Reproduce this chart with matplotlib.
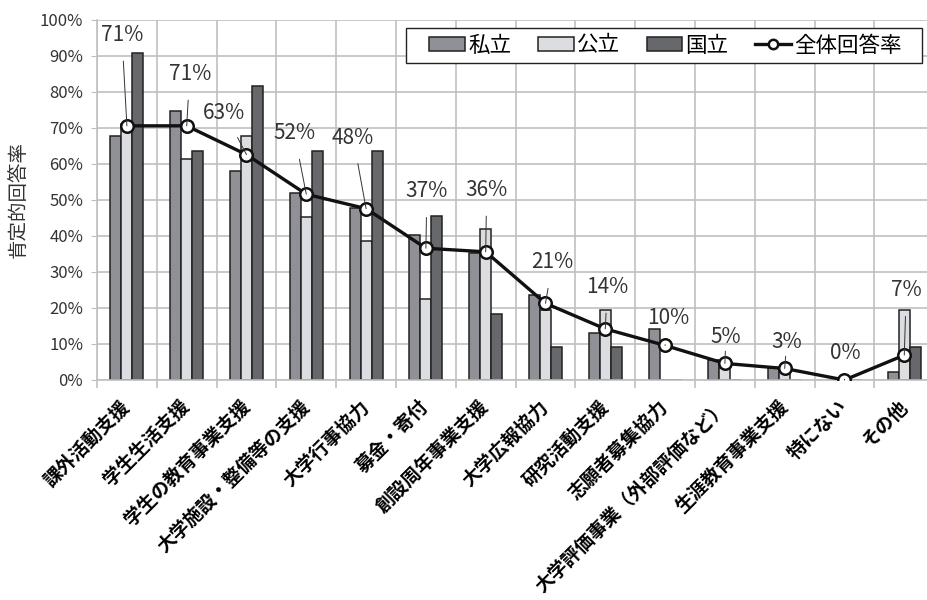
import matplotlib
matplotlib.use('Agg')
import matplotlib.pyplot as plt
import numpy as np
from matplotlib.patches import Rectangle
from matplotlib.ticker import FixedLocator, PercentFormatter

plt.rcParams['font.family'] = ['Noto Sans CJK JP', 'DejaVu Sans']

categories = [
    '課外活動支援', '学生生活支援', '学生の教育事業支援', '大学施設・整備等の支援',
    '大学行事協力', '募金・寄付', '創設周年事業支援', '大学広報協力',
    '研究活動支援', '志願者募集協力', '大学評価事業（外部評価など）',
    '生涯教育事業支援', '特にない', 'その他',
]
private = [67.8, 74.8, 58.1, 52.0, 47.7, 40.3, 35.4, 23.6, 13.0, 14.1, 5.6, 3.4, 0.0, 2.3]
public = [71.0, 61.3, 67.7, 45.2, 38.7, 22.6, 41.9, 19.4, 19.4, 0.0, 3.2, 3.2, 0.0, 19.4]
national = [90.9, 63.6, 81.8, 63.6, 63.6, 45.5, 18.2, 9.1, 9.1, 0.0, 0.0, 0.0, 0.0, 9.1]
overall = [70.6, 70.6, 62.6, 51.6, 47.6, 36.6, 35.6, 21.3, 14.2, 9.6, 4.6, 3.2, 0.0, 6.9]

# label offsets from each point, in pixels
label_offsets = [(-5, 91), (3, 52), (-22, 42), (-12, 61), (-13, 71), (1, 57), (1, 62),
                 (7, 41), (2, 42), (3, 27), (1, 26), (2, 26), (1, 27), (2, 65)]

C_PRIVATE = '#909196'
C_PUBLIC = '#dcdde0'
C_NATIONAL = '#67686c'
GRID = '#c0c0c0'

fig = plt.figure(figsize=(9.27, 6), dpi=100)
ax = fig.add_axes([97 / 927, 1 - 380 / 600, 830 / 927, 360 / 600])

x = np.arange(len(categories))
w = 0.184
bar_kw = dict(width=w, edgecolor='#222222', linewidth=1.1, zorder=2)
b1 = ax.bar(x - w, private, color=C_PRIVATE, label='私立', **bar_kw)
b2 = ax.bar(x, public, color=C_PUBLIC, label='公立', **bar_kw)
b3 = ax.bar(x + w, national, color=C_NATIONAL, label='国立', **bar_kw)

line, = ax.plot(x, overall, color='#111111', linewidth=2.4, marker='o', markersize=9,
                markerfacecolor='white', markeredgecolor='#111111', markeredgewidth=1.8,
                label='全体回答率', zorder=4)

for xi, v, (dx, dy) in zip(x, overall, label_offsets):
    ax.annotate(f'{v:.0f}%', xy=(xi, v), xytext=(dx, dy), textcoords='offset pixels',
                ha='center', va='center', fontsize=15, color='#333333', zorder=5,
                arrowprops=dict(arrowstyle='-', color='#333333', lw=0.7,
                                shrinkA=9, shrinkB=0))

ax.set_xlim(-0.5, 13.38)
ax.set_ylim(0, 100)
ax.yaxis.set_major_locator(FixedLocator(np.arange(0, 101, 10)))
ax.yaxis.set_major_formatter(PercentFormatter(decimals=0))
ax.tick_params(axis='y', labelsize=12, labelcolor='#333333', length=4,
               color=GRID, pad=6)

ax.set_xticks(x)
ax.set_xticklabels(categories, rotation=45, ha='right', va='center',
                   rotation_mode='anchor', fontsize=13.5, fontweight='bold')
ax.xaxis.set_minor_locator(FixedLocator(np.arange(-0.5, 14, 1)))
ax.tick_params(axis='x', which='major', length=0, pad=17)
ax.tick_params(axis='x', which='minor', length=6, color=GRID, width=1.2)

ax.grid(axis='y', color=GRID, linewidth=1.2, zorder=0)
ax.grid(axis='x', which='minor', color=GRID, linewidth=1.2, zorder=0)
ax.set_axisbelow(True)
for side in ['top', 'right']:
    ax.spines[side].set_visible(False)
for side in ['left', 'bottom']:
    ax.spines[side].set_color(GRID)
    ax.spines[side].set_linewidth(1.2)

ax.set_ylabel('肯定的回答率', fontsize=14, color='#333333')
ax.yaxis.set_label_coords(-0.081, 0.5)

# legend box drawn separately so it can be wider than the entries need
ax.add_patch(Rectangle((0.372, 0.881), 0.622, 0.097, transform=ax.transAxes,
                       facecolor='white', edgecolor='#222222', linewidth=1.0,
                       zorder=6))
leg = ax.legend(handles=[b1, b2, b3, line], loc='center',
                bbox_to_anchor=(0.685, 0.929), ncol=4,
                fontsize=15.5, frameon=False, handlelength=1.65, handleheight=0.6,
                handletextpad=0.15, columnspacing=1.25, borderaxespad=0,
                borderpad=0.3, markerscale=0.75)
leg.set_zorder(7)

fig.savefig('out.png', dpi=100)
